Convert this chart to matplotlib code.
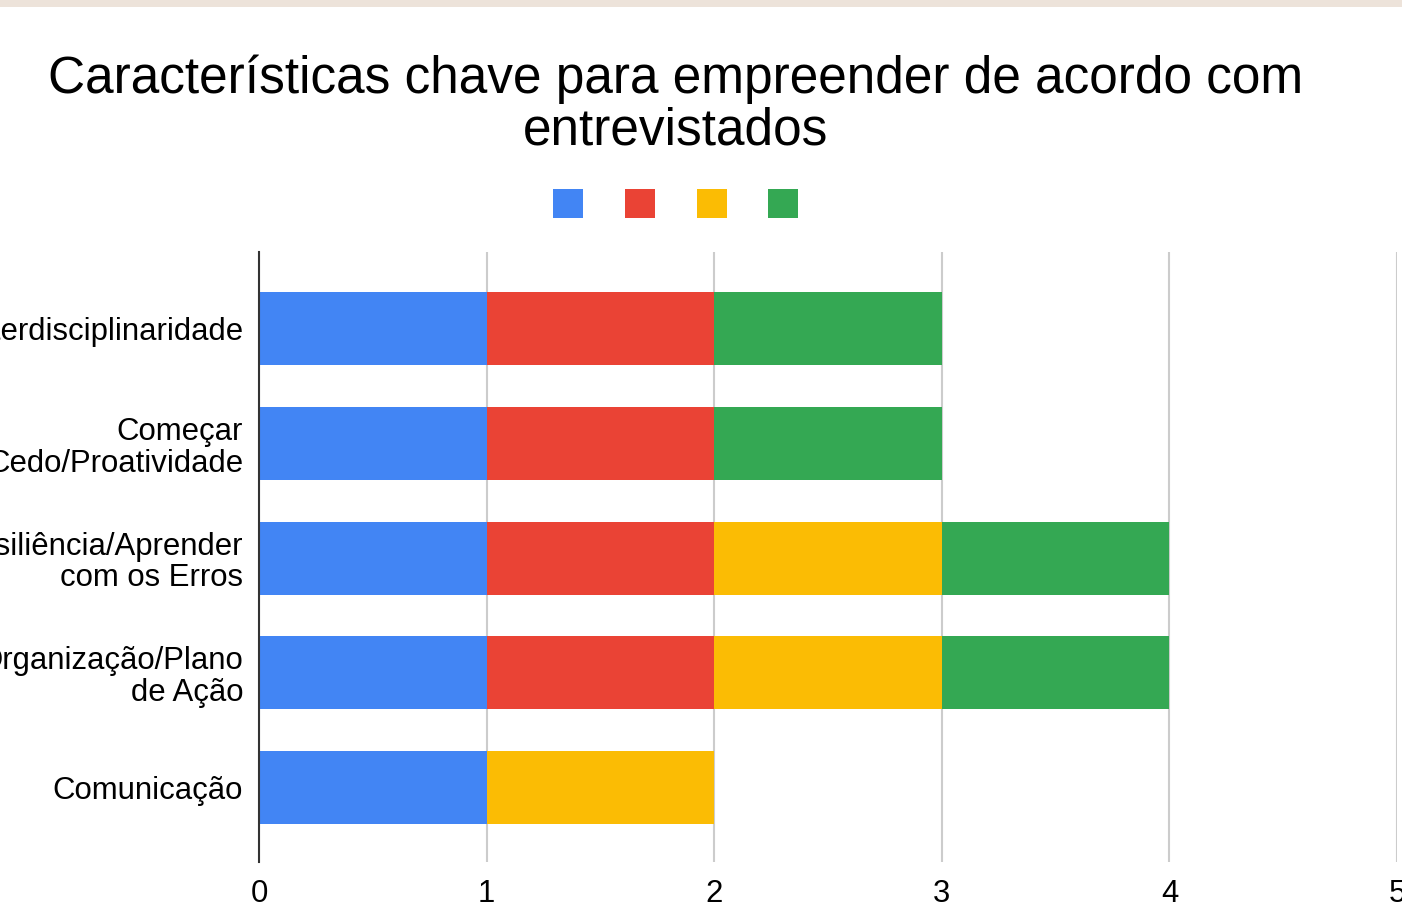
import numpy as np
import matplotlib
matplotlib.use("Agg")
import matplotlib.pyplot as plt
from matplotlib.patches import Patch, Rectangle

plt.rcParams['font.family'] = ['Liberation Sans', 'DejaVu Sans']

# data
categories = ["Interdisciplinaridade",
              "Começar\nCedo/Proatividade",
              "Resiliência/Aprender\ncom os Erros",
              "Organização/Plano\nde Ação",
              "Comunicação"]
serie_azul = [1, 1, 1, 1, 1]
serie_vermelha = [1, 1, 1, 1, 0]
serie_amarela = [0, 0, 1, 1, 1]
serie_verde = [1, 1, 1, 1, 0]
series = [serie_azul, serie_vermelha, serie_amarela, serie_verde]
colors = ["#4285F4", "#EA4335", "#FBBC04", "#34A853"]
x_ticks = [0, 1, 2, 3, 4, 5]
title = "Características chave para empreender de acordo com\nentrevistados"

fig = plt.figure(figsize=(14.02, 9.19), dpi=100)
fig.patch.set_facecolor("white")
# beige strip on top of the screenshot
fig.patches.append(Rectangle((0, 1 - 7 / 919), 1, 7 / 919, transform=fig.transFigure,
                             facecolor="#EDE3DA", edgecolor="none", zorder=0))

ax = fig.add_axes([259 / 1402, 1 - 862 / 919, (1397 - 259) / 1402, (862 - 252) / 919])

y = np.arange(len(categories))
left = np.zeros(len(categories))
for vals, c in zip(series, colors):
    vals = np.array(vals, dtype=float)
    ax.barh(y, vals, left=left, height=0.636, color=c, edgecolor="none", zorder=3)
    left += vals

ax.set_xlim(0, 5)
ax.set_ylim(4.649, -0.667)
ax.set_xticks(x_ticks)
ax.set_xticklabels([str(t) for t in x_ticks])
ax.set_yticks(y)
ax.set_yticklabels(categories, ha="right", multialignment="right")
for t in ax.get_yticklabels():
    t.set_linespacing(1.08)

ax.tick_params(axis="both", length=0, labelsize=22.4, colors="#000000")
ax.tick_params(axis="x", pad=12)
ax.tick_params(axis="y", pad=11.5)

ax.grid(axis="x", color="#CCCCCC", linewidth=1.5, zorder=0)
ax.set_axisbelow(True)
for s in ["top", "right", "bottom"]:
    ax.spines[s].set_visible(False)
ax.spines["left"].set_color("#333333")
ax.spines["left"].set_linewidth(1.5)
ax.spines["left"].set_zorder(4)

fig.text(0.482, 1 - 55 / 919, title, ha="center", va="top", fontsize=37,
         linespacing=1.06, color="#000000")

handles = [Patch(facecolor=c, edgecolor="none") for c in colors]
fig.legend(handles, [""] * 4, loc="center", bbox_to_anchor=(0.482, 1 - 204 / 919),
           ncol=4, frameon=False, fontsize=20, handlelength=1.08, handleheight=1.25,
           handletextpad=0, columnspacing=1.5, borderpad=0)

fig.savefig("out.png", dpi=100, facecolor="white")
